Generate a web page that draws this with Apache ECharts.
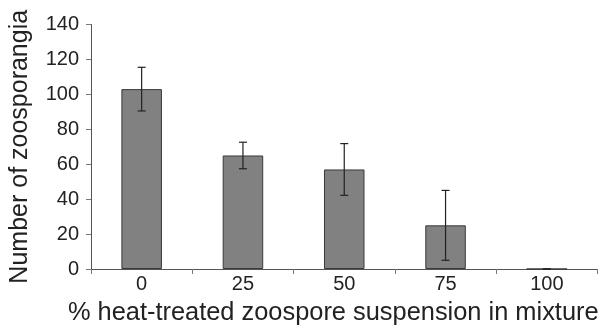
<!DOCTYPE html>
<html><head><meta charset="utf-8">
<script src="https://cdn.jsdelivr.net/npm/echarts@6/dist/echarts.min.js"></script>
<style>html,body{margin:0;padding:0;background:#fff}#c{width:606px;height:330px}</style>
</head><body><div id="c"></div>
<script>
const categories = ['0', '25', '50', '75', '100'];
const means = [103, 65, 57, 25, 0];
const errors = [12.5, 7.6, 14.8, 20, 0];

const chart = echarts.init(document.getElementById('c'), null, {renderer: 'canvas'});
const FONT = '"Liberation Sans", Arial, Helvetica, sans-serif';
const errData = categories.map((c, i) => [i, means[i] - errors[i], means[i] + errors[i]]);

chart.setOption({
  animation: false,
  grid: {left: 90, right: 8.5, top: 24.5, bottom: 56, containLabel: false},
  xAxis: {
    type: 'category', data: categories,
    axisLine: {lineStyle: {color: '#555', width: 1}},
    axisTick: {show: true, alignWithLabel: false, length: 5, lineStyle: {color: '#777'}},
    axisLabel: {color: '#222', fontFamily: FONT, fontSize: 20, margin: 5},
    name: '% heat-treated zoospore suspension in mixture',
    nameLocation: 'middle', nameGap: 31,
    nameTextStyle: {color: '#222', fontFamily: FONT, fontSize: 25.4, padding: [0, 22, 0, 0]}
  },
  yAxis: {
    type: 'value', min: 0, max: 140, interval: 20,
    splitLine: {show: false},
    axisLine: {show: true, lineStyle: {color: '#555', width: 1}},
    axisTick: {show: true, length: 5, lineStyle: {color: '#777'}},
    axisLabel: {color: '#222', fontFamily: FONT, fontSize: 20, margin: 12},
    name: 'Number of zoosporangia',
    nameLocation: 'middle', nameGap: 58,
    nameTextStyle: {color: '#222', fontFamily: FONT, fontSize: 25}
  },
  series: [
    {
      type: 'bar', data: means, barWidth: '40%',
      itemStyle: {color: '#818181', borderColor: '#3a3a3a', borderWidth: 1}
    },
    {
      type: 'custom', data: errData, z: 10,
      renderItem: function (params, api) {
        const x = api.value(0);
        const lo = api.coord([x, api.value(1)]);
        const hi = api.coord([x, api.value(2)]);
        const cap = 4;
        const style = {stroke: '#222', lineWidth: 1.2, fill: null};
        return {
          type: 'group',
          children: [
            {type: 'line', shape: {x1: lo[0], y1: lo[1], x2: hi[0], y2: hi[1]}, style: style},
            {type: 'line', shape: {x1: lo[0] - cap, y1: lo[1], x2: lo[0] + cap, y2: lo[1]}, style: style},
            {type: 'line', shape: {x1: hi[0] - cap, y1: hi[1], x2: hi[0] + cap, y2: hi[1]}, style: style}
          ]
        };
      }
    }
  ]
});
</script></body></html>
